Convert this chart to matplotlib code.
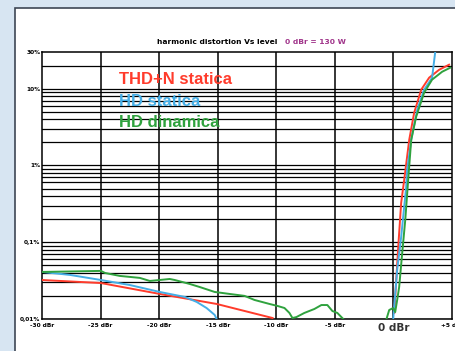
import matplotlib
matplotlib.use("Agg")
import matplotlib.pyplot as plt
from matplotlib.patches import Rectangle
import numpy as np

nan = np.nan

# level in dBr, distortion in %
thd_x = [-30, -24.97, -19.95, -15.09, -10.32, nan,
         0.07, 0.24, 0.41, 0.66, 0.92, 1.35, 1.77, 2.37, 3.05, 3.90, 4.75]
thd_y = [0.0322, 0.0294, 0.0212, 0.0157, 0.0103, nan,
         0.012, 0.0322, 0.0869, 0.325, 0.649, 2.16, 4.85, 9.68, 13.9, 17.6, 20.5]

hd_x = [-30, -27.61, -24.97, -22.50, -19.95, -17.82, -16.80, -15.95, -15.26, -15.09, nan,
        -0.02, 0.32, 0.66, 1.09, 1.17, 1.52, 2.03, 2.62, 3.30, 3.56, 3.62]
hd_y = [0.0410, 0.0375, 0.0322, 0.0277, 0.0225, 0.0194, 0.0167, 0.0139, 0.0113, 0.0100, nan,
        0.0100, 0.0436, 0.117, 0.526, 0.877, 2.16, 5.3, 9.68, 13.9, 29.4, 35]

hdd_x = [-30, -24.97, -24.63, -23.36, -21.65, -20.80, -19.95, -19.10, -18.67, -17.39,
         -16.54, -15.26, -13.99, -12.71, -11.86, -10.58, -9.90, -9.30, -8.88, -8.62,
         -8.28, -7.60, -6.75, -6.15, -5.64, -5.21, -4.79, -4.28, nan,
         -0.61, -0.36, -0.02, 0.15, 0.32, 0.49, 0.75, 1.01, 1.26, 1.52, 1.94, 2.62,
         3.30, 4.16, 4.84]
hdd_y = [0.0410, 0.0423, 0.0398, 0.0364, 0.0343, 0.0313, 0.0322, 0.0332, 0.0322, 0.0286,
         0.0261, 0.0225, 0.0212, 0.0200, 0.0177, 0.0157, 0.0148, 0.0139, 0.0120, 0.0103,
         0.0106, 0.0120, 0.0135, 0.0152, 0.0152, 0.0127, 0.0120, 0.0100, nan,
         0.0098, 0.0131, 0.0139, 0.0123, 0.0177, 0.0261, 0.0726, 0.195, 0.649, 2.16, 4.30, 8.85,
         13.1, 16.6, 18.7]

x_ticks = [-30, -25, -20, -15, -10, -5, 0, 5]
x_labels = ["-30 dBr", "-25 dBr", "-20 dBr", "-15 dBr", "-10 dBr", "-5 dBr", "0 dBr", "+5 dBr"]
y_ticks = [0.01, 0.1, 1, 10, 30]
y_labels = ["0,01%", "0,1%", "1%", "10%", "30%"]

red = "#ff3b2b"
blue = "#45aee6"
green = "#2fa23e"

fig = plt.figure(figsize=(4.55, 3.51), dpi=100)
fig.patch.set_facecolor("#d7e5f2")
# white page panel behind the chart
fig.patches.append(Rectangle((15 / 455, -0.1), 1.0, 1.1 - 8 / 351, transform=fig.transFigure,
                             facecolor="white", edgecolor="#3d4654", lw=1.2, zorder=-10))

ax = fig.add_axes([42 / 455, 1 - 319 / 351, 410 / 455, 267 / 351])
ax.set_facecolor("none")
ax.set_yscale("log")
ax.set_xlim(-30, 5)
ax.set_ylim(0.01, 30)

# horizontal grid: every 1..9 of each decade + 20%
for dec in [0.01, 0.1, 1]:
    for k in range(1, 10):
        ax.axhline(dec * k, color="black", lw=0.9, zorder=1)
ax.axhline(10, color="black", lw=0.9, zorder=1)
ax.axhline(20, color="black", lw=0.9, zorder=1)
for x in x_ticks[1:-1]:
    ax.axvline(x, color="black", lw=1.1, zorder=1)

ax.plot(thd_x, thd_y, color=red, lw=1.4, zorder=3)
ax.plot(hd_x, hd_y, color=blue, lw=1.4, zorder=3)
ax.plot(hdd_x, hdd_y, color=green, lw=1.4, zorder=4)

for s in ax.spines.values():
    s.set_linewidth(1.1)

ax.set_xticks(x_ticks)
ax.set_xticklabels(x_labels)
ax.set_yticks(y_ticks)
ax.set_yticklabels(y_labels)
ax.minorticks_off()
ax.tick_params(length=0, pad=3)
for t in ax.get_xticklabels():
    t.set_fontsize(4.2)
    t.set_fontweight("bold")
ax.get_xticklabels()[6].set_fontsize(7.5)
ax.get_xticklabels()[6].set_fontweight("bold")
ax.get_xticklabels()[6].set_color("#333333")
for t in ax.get_yticklabels():
    t.set_fontsize(4.2)
    t.set_fontweight("bold")
ax.tick_params(axis="y", pad=1)

fig.text(217 / 455, 1 - 42 / 351, "harmonic distortion Vs level", ha="center", va="center",
         fontsize=5.4, fontweight="bold")
fig.text(315 / 455, 1 - 42 / 351, "0 dBr = 130 W", ha="center", va="center",
         fontsize=5.4, color="#a0348a", fontweight="bold")

ax.text(-23.4, 13.1, "THD+N statica", color=red, fontsize=12, fontweight="bold",
        family="Liberation Sans", va="center", zorder=5)
ax.text(-23.4, 6.7, "HD statica", color=blue, fontsize=12, fontweight="bold",
        family="Liberation Sans", va="center", zorder=5)
ax.text(-23.4, 3.6, "HD dinamica", color=green, fontsize=12, fontweight="bold",
        family="Liberation Sans", va="center", zorder=5)

fig.savefig("out.png", dpi=100, facecolor=fig.get_facecolor())
